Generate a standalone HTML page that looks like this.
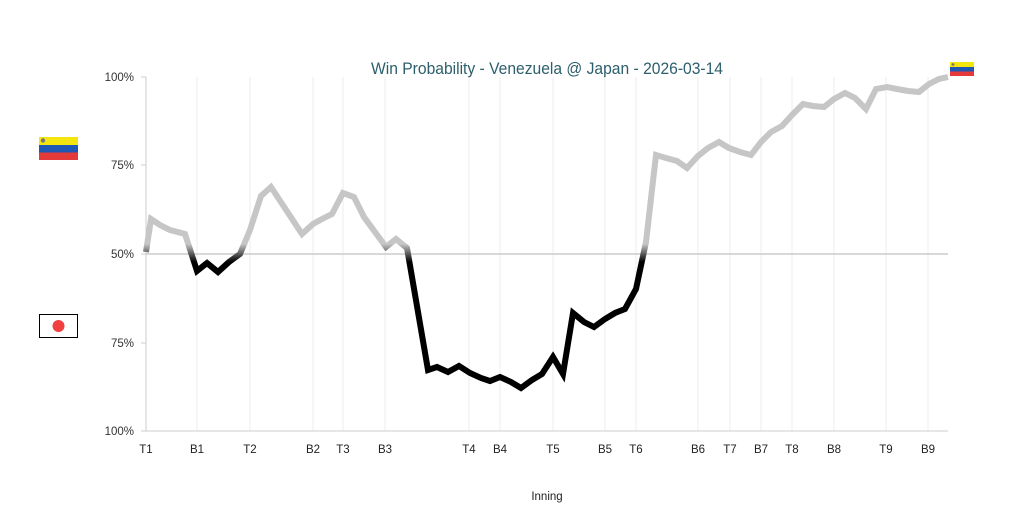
<!DOCTYPE html>
<html><head><meta charset="utf-8"><style>
html,body{margin:0;padding:0;background:#fff;}
svg{display:block;font-family:"Liberation Sans Narrow","Liberation Sans",sans-serif;}
</style></head><body>
<svg width="1036" height="523" viewBox="0 0 1036 523" xmlns="http://www.w3.org/2000/svg">
<defs>
<linearGradient id="g" gradientUnits="userSpaceOnUse" x1="0" y1="244" x2="0" y2="262">
<stop offset="0" stop-color="#c6c6c6"/><stop offset="1" stop-color="#000"/>
</linearGradient>
</defs>
<text x="371" y="74" textLength="352" lengthAdjust="spacingAndGlyphs" font-size="17" fill="#2c5f6b">Win Probability - Venezuela @ Japan - 2026-03-14</text>
<g stroke="#eee" stroke-width="1">
<line x1="197" y1="77" x2="197" y2="431"/><line x1="250" y1="77" x2="250" y2="431"/><line x1="313" y1="77" x2="313" y2="431"/><line x1="343" y1="77" x2="343" y2="431"/><line x1="385" y1="77" x2="385" y2="431"/><line x1="469" y1="77" x2="469" y2="431"/><line x1="500" y1="77" x2="500" y2="431"/><line x1="553" y1="77" x2="553" y2="431"/><line x1="605" y1="77" x2="605" y2="431"/><line x1="636" y1="77" x2="636" y2="431"/><line x1="698" y1="77" x2="698" y2="431"/><line x1="730" y1="77" x2="730" y2="431"/><line x1="761" y1="77" x2="761" y2="431"/><line x1="792" y1="77" x2="792" y2="431"/><line x1="834" y1="77" x2="834" y2="431"/><line x1="886" y1="77" x2="886" y2="431"/><line x1="928" y1="77" x2="928" y2="431"/>
</g>
<line x1="146" y1="77" x2="146" y2="431" stroke="#ccc"/>
<line x1="146" y1="431" x2="948" y2="431" stroke="#ccc"/>
<line x1="146" y1="254" x2="948" y2="254" stroke="#ccc" stroke-width="1.5"/>
<g stroke="#ccc"><line x1="141" y1="77" x2="146" y2="77"/><line x1="141" y1="165" x2="146" y2="165"/><line x1="141" y1="254" x2="146" y2="254"/><line x1="141" y1="343" x2="146" y2="343"/><line x1="141" y1="431" x2="146" y2="431"/></g>
<g font-size="11.5" fill="#333" text-anchor="end">
<text x="134" y="81">100%</text><text x="134" y="169">75%</text><text x="134" y="258">50%</text><text x="134" y="347">75%</text><text x="134" y="435">100%</text>
</g>
<g font-size="11.5" fill="#222" text-anchor="middle">
<text x="146" y="453">T1</text><text x="197" y="453">B1</text><text x="250" y="453">T2</text><text x="313" y="453">B2</text><text x="343" y="453">T3</text><text x="385" y="453">B3</text><text x="469" y="453">T4</text><text x="500" y="453">B4</text><text x="553" y="453">T5</text><text x="605" y="453">B5</text><text x="636" y="453">T6</text><text x="698" y="453">B6</text><text x="730" y="453">T7</text><text x="761" y="453">B7</text><text x="792" y="453">T8</text><text x="834" y="453">B8</text><text x="886" y="453">T9</text><text x="928" y="453">B9</text>
<text x="547" y="500">Inning</text>
</g>
<polyline fill="none" stroke="url(#g)" stroke-width="6" stroke-linejoin="miter" points="146,252 151,219 160,225 170,230 185,234 197,271 207,263 218,272 229,262 240,254 250,230 261,196 271,187 302,234 313,224 322,219 332,214 343,193 354,197 364,217 375,232 386,247 396,239 407,248 428,370 437,367 448,372 459,366 470,373 481,378 490,381 500,377 511,382 521,388 532,380 542,374 553,357 563,374 573,313 584,322 594,327 605,319 615,313 625,309 636,289 646,242 656,155 666,158 677,161 687,168 698,156 708,148 719,142 729,148 740,152 751,155 761,142 771,132 782,126 792,115 803,104 813,106 824,107 834,99 845,93 855,98 866,109 876,89 887,87 897,89 908,91 919,92 929,84 939,79 948,77"/>
<g><rect x="39" y="137" width="39" height="8" fill="#f5e50f"/><rect x="39" y="145" width="39" height="7.5" fill="#1f57b5"/><rect x="39" y="152.5" width="39" height="7.5" fill="#e43a3a"/><circle cx="43" cy="140.5" r="2.2" fill="#777"/></g>
<g><rect x="950" y="62" width="24" height="5" fill="#f5e50f"/><rect x="950" y="67" width="24" height="4.5" fill="#1f57b5"/><rect x="950" y="71.5" width="24" height="4.5" fill="#e43a3a"/><circle cx="953" cy="64.5" r="1.4" fill="#777"/></g>
<rect x="39.5" y="314.5" width="38" height="23" fill="#fff" stroke="#000"/>
<circle cx="58.5" cy="326" r="6" fill="#f04040"/>
</svg>
</body></html>
